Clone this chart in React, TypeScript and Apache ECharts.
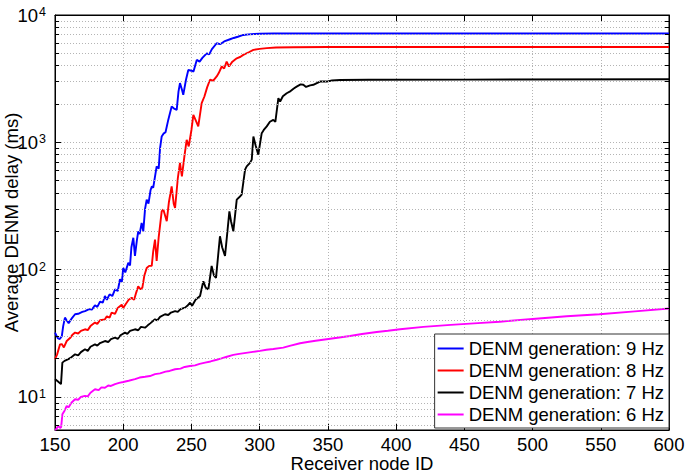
import React, { useEffect, useRef } from "react";
import * as echarts from "echarts";

const FONT = "'Liberation Sans', Arial, Helvetica, sans-serif";

const seriesNames = [
  "DENM generation: 9 Hz",
  "DENM generation: 8 Hz",
  "DENM generation: 7 Hz",
  "DENM generation: 6 Hz",
];
const seriesColors = ["#0000ff", "#ff0000", "#000000", "#ff00ff"];

// 9 Hz
const blueX = [150, 152, 153.5, 155, 156, 157.3, 158.5, 160, 162, 164.7, 167, 170, 172, 175, 177, 179.3, 181, 183, 185, 186.6, 188, 190, 192, 194, 196, 197.6, 199, 200, 201.5, 203.7, 205, 206, 207.4, 208.6, 210, 211, 212, 213.5, 214.7, 216, 217.2, 218.5, 220, 221, 222, 224.5, 226, 227, 228.2, 229.5, 231, 233, 235.5, 237, 239.2, 240.5, 241.6, 243, 244, 246, 247.7, 250, 251.5, 253.9, 256, 258, 261.2, 263, 265, 268.5, 271, 274, 278.3, 281, 284, 288, 292, 296, 300, 310, 330, 400, 500, 600];
const blueY = [32, 29, 28.5, 30, 36, 42, 40, 38, 41, 44.6, 45, 46.5, 47.3, 49, 48.5, 52.5, 51, 56, 55, 62, 58, 64, 62, 70, 68, 84, 80, 103, 95, 113, 108, 150, 178, 128, 170, 200, 190, 233, 200, 300, 355, 330, 420, 451, 440, 648, 620, 900, 1112, 1170, 1200, 1500, 1910, 1850, 1800, 2500, 2920, 2600, 2360, 3100, 3700, 3650, 3600, 4440, 4300, 4600, 5000, 4900, 5400, 6000, 5900, 6200, 6450, 6600, 6750, 6970, 7050, 7100, 7130, 7150, 7150, 7150, 7150, 7150];

// 8 Hz
const redX = [150, 151.5, 153.7, 155, 156.5, 158.6, 161, 163, 164.7, 167, 169, 172, 174, 176, 179.3, 181, 183, 186.6, 188, 190, 191.5, 194, 196, 198.9, 200, 202, 204, 206.2, 208, 209.5, 211, 212.5, 214, 215.5, 217.2, 219, 220.9, 222, 223.3, 224.5, 226, 228.2, 229.4, 231.9, 233.5, 235.5, 237, 238, 240, 241.6, 243, 245, 246.5, 248, 250, 251.4, 253, 255, 257.5, 259.5, 261.5, 263.6, 266, 268.5, 270, 272.2, 274, 275.8, 277.5, 280, 283.2, 286, 288, 292, 295.4, 300, 305.2, 312, 325, 350, 450, 600];
const redY = [19.8, 21.5, 25.9, 26, 24.5, 27.5, 29, 31, 32, 31.5, 33, 34, 33.5, 36, 38.4, 37.5, 40, 40.7, 43, 42, 46, 45, 50, 53, 50, 54, 58, 60, 58, 66, 74, 70, 72, 90, 103, 107, 107, 140, 172, 117, 180, 287, 297, 240, 340, 451, 330, 305, 520, 689, 541, 800, 1047, 929, 1250, 1644, 1500, 1334, 2030, 2290, 2700, 3100, 3050, 3290, 3500, 3940, 3800, 4310, 3940, 4300, 4570, 4700, 4860, 5100, 5320, 5420, 5490, 5550, 5580, 5600, 5600, 5600];

// 7 Hz
const blackX = [150, 152, 154.4, 155.4, 157, 159.8, 162, 164.7, 167, 169, 172, 174, 176, 179.3, 181, 183, 186.6, 189, 191, 194, 196, 198, 201.3, 203, 205, 208.6, 211, 213, 216, 218, 220, 223.3, 225, 227, 230.6, 233, 235, 238, 240, 242, 245.3, 247, 249, 250.5, 253, 256.3, 258.7, 260.5, 262.4, 264.8, 266.5, 268, 270.9, 272.5, 274.6, 277.8, 279, 280.7, 283.2, 285, 286.8, 289.3, 290.5, 292.9, 294.2, 295.4, 297, 299, 301.5, 303, 305.2, 307.5, 310, 311.5, 313.7, 315, 317, 319.8, 322, 325, 327.1, 330, 332, 334, 337, 339.3, 344.2, 349.1, 353, 359, 380, 450, 600];
const blackY = [13.8, 13.3, 12.6, 18.6, 19.2, 19.8, 20.5, 21.6, 21.2, 22.5, 23.7, 23, 24.8, 25.9, 25.3, 26.5, 27.5, 27, 28.5, 29.2, 28.6, 30.5, 32, 31.3, 33, 34, 33.4, 35.5, 35, 36.5, 38, 40.7, 40, 42.5, 44.6, 44, 46, 47.3, 46.5, 49, 50.3, 52, 55, 52, 58, 62, 81, 72, 70, 107, 90, 86, 183, 150, 128, 287, 240, 200, 355, 370, 389, 610, 648, 689, 731, 1112, 950, 800, 1180, 1250, 1334, 1450, 1500, 1450, 2220, 2090, 2300, 2430, 2500, 2650, 2740, 2850, 2830, 2720, 2800, 2830, 3000, 3000, 3060, 3090, 3100, 3110, 3130];

// 6 Hz
const magentaX = [150, 151, 152.4, 153.7, 154.5, 155.4, 157, 158.6, 160, 162, 164.7, 167, 169, 172, 174, 176, 179.3, 182, 184, 186.6, 189, 191, 194, 197, 200, 204, 208.6, 212, 216, 219.6, 223.3, 227, 231, 234, 238, 242, 245, 248.9, 252.6, 256, 260, 264, 268.5, 272, 276, 280.7, 285, 290, 295, 300.2, 305, 310, 317.3, 322, 329.6, 335, 341, 349.1, 357, 366.2, 375, 385.8, 394, 402.9, 420, 440, 460, 476, 500, 525, 549, 575, 600];
const magentaY = [5.5, 5.6, 5.94, 5.7, 5.8, 7.3, 7.8, 8.5, 8.3, 9.0, 9.6, 9.5, 10, 10.2, 10.1, 10.8, 11.5, 11.3, 11.9, 11.8, 12.3, 12.2, 12.6, 12.9, 13.1, 13.4, 13.8, 14.2, 14.4, 14.6, 15.1, 15.3, 15.8, 16, 16.5, 16.7, 17.2, 17.5, 17.7, 18.2, 18.6, 19, 19.6, 20.1, 20.7, 21.4, 21.8, 22.2, 22.6, 23, 23.5, 23.8, 24.4, 25.2, 26.4, 27, 27.6, 28.4, 29.2, 30.1, 31.2, 32.4, 33.1, 34, 35.5, 36.8, 38, 39, 41, 43, 44.6, 47, 49.5];

const xMin = 150;
const xMax = 600;
const xInterval = 50;
const yMin = 5.5;
const yMax = 10000;
const minorGridValues = [6, 7, 8, 9, 20, 30, 40, 50, 60, 70, 80, 90, 200, 300, 400, 500, 600, 700, 800, 900, 2000, 3000, 4000, 5000, 6000, 7000, 8000, 9000];

const pairs = (xs: number[], ys: number[]) => xs.map((x, i) => [x, ys[i]]);

export default function App() {
  const ref = useRef<HTMLDivElement>(null);
  useEffect(() => {
    if (!ref.current) return;
    const chart = echarts.init(ref.current, undefined, { renderer: "svg" });
    const gridDot = { color: "#b4b4b4", width: 1, type: [1, 2] as any };
    const minorTickLen = 3; // x-units (~4px)
    const minorTicks: any[] = [];
    minorGridValues.forEach((v) => {
      minorTicks.push([{ coord: [xMin, v] }, { coord: [xMin + minorTickLen, v] }]);
      minorTicks.push([{ coord: [xMax - minorTickLen, v] }, { coord: [xMax, v] }]);
    });
    const datasets = [pairs(blueX, blueY), pairs(redX, redY), pairs(blackX, blackY), pairs(magentaX, magentaY)];
    const series: any[] = datasets.map((d, i) => ({
      name: seriesNames[i],
      type: "line",
      data: d,
      symbol: "none",
      showSymbol: false,
      lineStyle: { color: seriesColors[i], width: 1.9 },
      itemStyle: { color: seriesColors[i] },
      z: 3,
    }));
    series.push({
      name: "grid-minor",
      type: "line",
      data: [],
      silent: true,
      z: 1,
      markLine: {
        silent: true,
        symbol: ["none", "none"],
        label: { show: false },
        lineStyle: gridDot,
        data: minorGridValues.map((v) => ({ yAxis: v })),
        animation: false,
      },
    });
    series.push({
      name: "tick-minor",
      type: "line",
      data: [],
      silent: true,
      z: 2,
      markLine: {
        silent: true,
        symbol: ["none", "none"],
        label: { show: false },
        lineStyle: { color: "#000", width: 1, type: "solid" },
        data: minorTicks,
        animation: false,
      },
    });
    const isPow10 = (v: number) => Math.abs(Math.log10(v) - Math.round(Math.log10(v))) < 1e-6;
    chart.setOption({
      animation: false,
      textStyle: { fontFamily: FONT },
      grid: { left: 55, right: 16, top: 15, bottom: 43, show: true, borderColor: "#000", borderWidth: 1, backgroundColor: "#fff", outerBoundsMode: "none", containLabel: false },
      legend: {
        data: seriesNames,
        orient: "vertical",
        right: 16,
        bottom: 45,
        backgroundColor: "#fff",
        borderColor: "#333",
        borderWidth: 1,
        borderRadius: 0,
        padding: [5, 5, 4, 3],
        itemGap: 3,
        itemWidth: 26,
        itemHeight: 2,
        icon: "rect",
        textStyle: { fontFamily: FONT, fontSize: 18.5, color: "#000", lineHeight: 18 },
        z: 10,
      },
      xAxis: [
        {
          type: "value",
          min: xMin,
          max: xMax,
          interval: xInterval,
          name: "Receiver node ID",
          nameLocation: "middle",
          nameGap: 24,
          nameMoveOverlap: false,
          nameTextStyle: { fontFamily: FONT, fontSize: 18.5, color: "#000" },
          axisLine: { show: true, lineStyle: { color: "#000", width: 1 } },
          axisTick: { show: true, inside: true, length: 6, lineStyle: { color: "#000" } },
          axisLabel: { fontFamily: FONT, fontSize: 18.5, color: "#000", margin: 5 },
          splitLine: { show: true, lineStyle: gridDot },
        },
        {
          type: "value",
          position: "top",
          min: xMin,
          max: xMax,
          interval: xInterval,
          axisLine: { show: true, lineStyle: { color: "#000", width: 1 } },
          axisTick: { show: true, inside: true, length: 6, lineStyle: { color: "#000" } },
          axisLabel: { show: false },
          splitLine: { show: false },
        },
      ],
      yAxis: [
        {
          type: "log",
          logBase: 10,
          min: yMin,
          max: yMax,
          name: "Average DENM delay (ms)",
          nameLocation: "middle",
          nameGap: 34,
          nameRotate: 90,
          nameMoveOverlap: false,
          nameTextStyle: { fontFamily: FONT, fontSize: 18.5, color: "#000" },
          axisLine: { show: true, lineStyle: { color: "#000", width: 1 } },
          axisTick: { show: true, inside: true, length: 6, lineStyle: { color: "#000" } },
          axisLabel: {
            margin: 9,
            color: "#000",
            formatter: (v: number) => (isPow10(v) ? `{b|10}{s|${Math.round(Math.log10(v))}}` : ""),
            rich: {
              b: { fontFamily: FONT, fontSize: 18.5, color: "#000" },
              s: { fontFamily: FONT, fontSize: 12.5, color: "#000", verticalAlign: "top", padding: [0, 0, 0, 1] },
            },
          },
          splitLine: { show: true, lineStyle: gridDot },
        },
        {
          type: "log",
          logBase: 10,
          position: "right",
          min: yMin,
          max: yMax,
          axisLine: { show: true, lineStyle: { color: "#000", width: 1 } },
          axisTick: { show: true, inside: true, length: 6, lineStyle: { color: "#000" } },
          axisLabel: { show: false },
          splitLine: { show: false },
        },
      ],
      series,
    });
    return () => chart.dispose();
  }, []);
  return <div ref={ref} style={{ width: 685, height: 473, position: "absolute", left: 0, top: 0, background: "#fff" }} />;
}
